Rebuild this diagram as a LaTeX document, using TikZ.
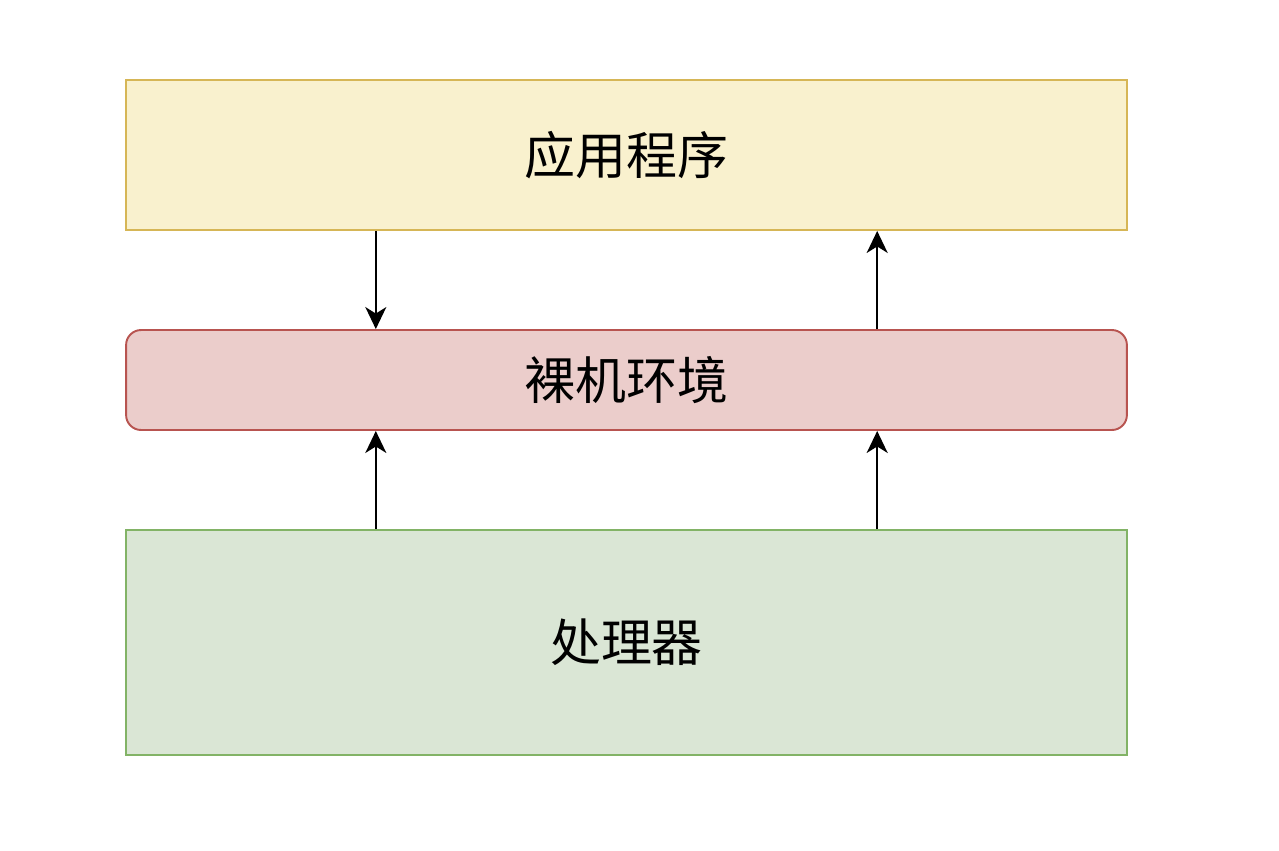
\documentclass[tikz,border=0pt]{standalone}
\usepackage{fontspec}
\newfontfamily\cjk{Noto Sans CJK SC}
\usepackage{tikz}
\usetikzlibrary{positioning,arrows.meta,calc}
\usepackage{xcolor}
\definecolor{appfill}{HTML}{F9F1CE}
\definecolor{appdraw}{HTML}{D6B656}
\definecolor{envfill}{HTML}{EBCDCB}
\definecolor{envdraw}{HTML}{B85450}
\definecolor{cpufill}{HTML}{DAE6D5}
\definecolor{cpudraw}{HTML}{82B366}

\begin{document}
\begin{tikzpicture}[x=0.02cm,y=-0.02cm,>={Stealth[length=4.4mm,width=4.2mm,inset=1.3mm]},
  layer/.style={minimum width=20.02cm,inner sep=0pt,line width=1.1pt,
    font=\cjk\fontsize{29}{35}\selectfont}]
\useasboundingbox (0,0) rectangle (1279,850);
\node[layer,draw=appdraw,fill=appfill,minimum height=3cm] (app) at (626.5,155) {应用程序};
\node[layer,draw=envdraw,fill=envfill,minimum height=2cm,rounded corners=0.3cm] (env) at (626.5,380) {裸机环境};
\node[layer,draw=cpudraw,fill=cpufill,minimum height=4.5cm] (cpu) at (626.5,642.5) {处理器};
\draw[->,line width=1.1pt] ($(app.south west)!.25!(app.south east)$) -- ($(env.north west)!.25!(env.north east)$);
\draw[->,line width=1.1pt] ($(env.north west)!.75!(env.north east)$) -- ($(app.south west)!.75!(app.south east)$);
\draw[->,line width=1.1pt] ($(cpu.north west)!.25!(cpu.north east)$) -- ($(env.south west)!.25!(env.south east)$);
\draw[->,line width=1.1pt] ($(cpu.north west)!.75!(cpu.north east)$) -- ($(env.south west)!.75!(env.south east)$);
\end{tikzpicture}
\end{document}
